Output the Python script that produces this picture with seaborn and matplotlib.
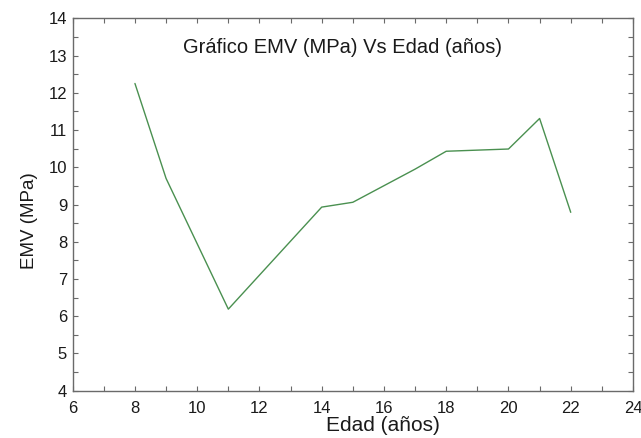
import matplotlib
matplotlib.use("Agg")
import matplotlib.pyplot as plt
from matplotlib.ticker import MultipleLocator
import pandas as pd
import seaborn as sns

# EMV measurements by age
edad = [8, 9, 11, 14, 15, 17, 18, 20, 21, 22]
emv = [12.25, 9.70, 6.19, 8.93, 9.06, 9.95, 10.43, 10.49, 11.31, 8.79]

titulo = "Gráfico EMV (MPa) Vs Edad (años)"
xlabel = "Edad (años)"
ylabel = "EMV (MPa)"

sns.set_style("ticks")
plt.rcParams["font.family"] = ["Liberation Sans", "DejaVu Sans"]

df = pd.DataFrame({"Edad": edad, "EMV": emv})

fig = plt.figure(figsize=(6.41, 4.38), dpi=100)
ax = fig.add_axes([0.1134, 0.108, 0.8741, 0.8502])

sns.lineplot(data=df, x="Edad", y="EMV", ax=ax, color="#4a9050",
             linewidth=1.0, sort=False)

ax.set_xlim(6, 24)
ax.set_ylim(4, 14)
ax.xaxis.set_major_locator(MultipleLocator(2))
ax.xaxis.set_minor_locator(MultipleLocator(1))
ax.yaxis.set_major_locator(MultipleLocator(1))
ax.yaxis.set_minor_locator(MultipleLocator(0.5))

for side in ["top", "right", "left", "bottom"]:
    ax.spines[side].set_visible(True)
    ax.spines[side].set_color("#6a6a6a")
    ax.spines[side].set_linewidth(1.0)

ax.tick_params(which="both", direction="in", top=True, right=True,
               length=3.5, width=0.8, color="#6a6a6a",
               labelsize=12, labelcolor="#1a1a1a")
ax.tick_params(axis="x", which="both", pad=7.5)
ax.tick_params(axis="y", which="both", pad=4)

ax.set_xlabel(xlabel, fontsize=15, color="#1a1a1a")
ax.set_ylabel(ylabel, fontsize=13.5, color="#1a1a1a")
ax.xaxis.set_label_coords(0.5535, -0.069)
ax.yaxis.set_label_coords(-0.062, 0.458)

ax.text(14.66, 13.22, titulo, ha="center", va="center", fontsize=14.5,
        color="#1a1a1a")

fig.savefig("out.png", dpi=100, facecolor="white")
